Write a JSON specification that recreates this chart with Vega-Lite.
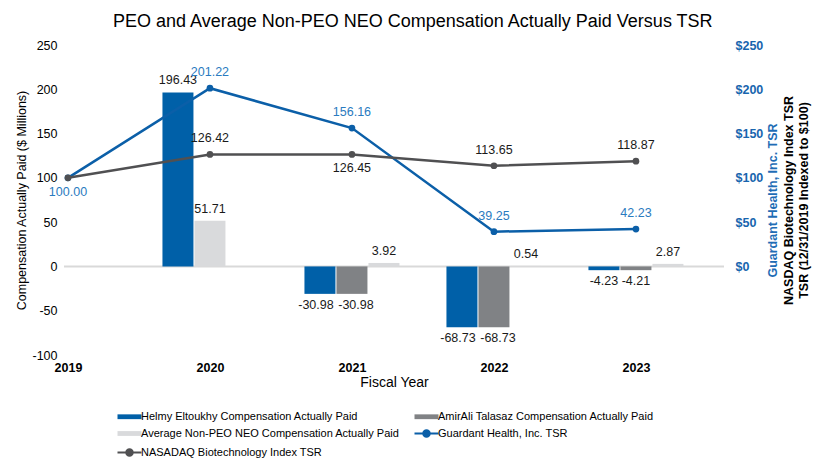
{
  "$schema": "https://vega.github.io/schema/vega-lite/v6.json",
  "width": 660,
  "height": 310,
  "autosize": {"type": "none"},
  "padding": {"left": 64, "top": 45, "right": 96, "bottom": 115},
  "background": "white",
  "title": {"text": "PEO and Average Non-PEO NEO Compensation Actually Paid Versus TSR", "fontSize": 18, "fontWeight": "normal", "font": "Liberation Sans", "color": "#000000", "anchor": "middle", "frame": "bounds", "offset": 8},
  "config": {"font": "Liberation Sans", "view": {"stroke": null}, "axis": {"grid": false, "domain": false, "ticks": false},
             "locale": {"number": {"decimal": ".", "thousands": ",", "grouping": [3], "currency": ["$", ""], "minus": "-"}}},
  "data": {"values": [
    {"year": "2020", "series": "Helmy Eltoukhy Compensation Actually Paid", "value": 196.43},
    {"year": "2020", "series": "Average Non-PEO NEO Compensation Actually Paid", "value": 51.71},
    {"year": "2021", "series": "Helmy Eltoukhy Compensation Actually Paid", "value": -30.98},
    {"year": "2021", "series": "AmirAli Talasaz Compensation Actually Paid", "value": -30.98},
    {"year": "2021", "series": "Average Non-PEO NEO Compensation Actually Paid", "value": 3.92},
    {"year": "2022", "series": "Helmy Eltoukhy Compensation Actually Paid", "value": -68.73},
    {"year": "2022", "series": "AmirAli Talasaz Compensation Actually Paid", "value": -68.73},
    {"year": "2022", "series": "Average Non-PEO NEO Compensation Actually Paid", "value": 0.54},
    {"year": "2023", "series": "Helmy Eltoukhy Compensation Actually Paid", "value": -4.23},
    {"year": "2023", "series": "AmirAli Talasaz Compensation Actually Paid", "value": -4.21},
    {"year": "2023", "series": "Average Non-PEO NEO Compensation Actually Paid", "value": 2.87},
    {"year": "2019", "series": "Guardant Health, Inc. TSR", "value": 100.00},
    {"year": "2020", "series": "Guardant Health, Inc. TSR", "value": 201.22},
    {"year": "2021", "series": "Guardant Health, Inc. TSR", "value": 156.16},
    {"year": "2022", "series": "Guardant Health, Inc. TSR", "value": 39.25},
    {"year": "2023", "series": "Guardant Health, Inc. TSR", "value": 42.23},
    {"year": "2019", "series": "NASADAQ Biotechnology Index TSR", "value": 100.00},
    {"year": "2020", "series": "NASADAQ Biotechnology Index TSR", "value": 126.42},
    {"year": "2021", "series": "NASADAQ Biotechnology Index TSR", "value": 126.45},
    {"year": "2022", "series": "NASADAQ Biotechnology Index TSR", "value": 113.65},
    {"year": "2023", "series": "NASADAQ Biotechnology Index TSR", "value": 118.87}
  ]},
  "layer": [
    {
      "data": {"values": [{}]},
      "mark": {"type": "rule", "color": "#D9D9D9", "strokeWidth": 2},
      "encoding": {"y": {"datum": 0, "type": "quantitative", "axis": null}}
    },
    {
      "transform": [
        {"filter": {"field": "series", "oneOf": ["Helmy Eltoukhy Compensation Actually Paid", "AmirAli Talasaz Compensation Actually Paid", "Average Non-PEO NEO Compensation Actually Paid"]}},
        {"calculate": "indexof(['Helmy Eltoukhy Compensation Actually Paid', 'AmirAli Talasaz Compensation Actually Paid', 'Average Non-PEO NEO Compensation Actually Paid'], datum.series)", "as": "ord"},
        {"window": [{"op": "row_number", "as": "slot"}], "groupby": ["year"], "sort": [{"field": "ord"}]}
      ],
      "mark": {"type": "bar", "width": 31, "xOffset": {"expr": "(datum.slot - 2) * 32"}},
      "encoding": {
        "x": {"field": "year", "type": "ordinal", "scale": {"type": "point", "domain": ["2019", "2020", "2021", "2022", "2023"], "padding": 0.324, "align": 0.043},
              "axis": {"labelAngle": 0, "labelFontWeight": "bold", "labelFontSize": 12.5, "labelColor": "#000000", "labelPadding": 6, "title": "Fiscal Year", "titleFontSize": 14, "titleFontWeight": "normal", "titleColor": "#000000", "titlePadding": 2}},
        "y": {"field": "value", "type": "quantitative", "stack": null, "scale": {"domain": [-100, 250], "nice": false, "zero": false},
              "axis": {"orient": "left", "values": [-100, -50, 0, 50, 100, 150, 200, 250], "labelFontSize": 12.5, "labelColor": "#000000", "labelPadding": 7, "title": "Compensation Actually Paid ($ Millions)", "titleFontSize": 12.5, "titleFontWeight": "normal", "titleColor": "#000000", "titlePadding": 3}},
        "color": {"field": "series", "type": "nominal",
                  "scale": {"domain": ["Helmy Eltoukhy Compensation Actually Paid", "AmirAli Talasaz Compensation Actually Paid", "Average Non-PEO NEO Compensation Actually Paid", "Guardant Health, Inc. TSR", "NASADAQ Biotechnology Index TSR"],
                            "range": ["#0060A8", "#808285", "#D9DADC", "#0B5FA8", "#505052"]},
                  "legend": {"orient": "none", "legendX": 60, "legendY": 366, "direction": "horizontal", "columns": 2, "columnPadding": 10, "rowPadding": 4, "padding": 0, "title": null, "labelFontSize": 11, "labelColor": "#000000", "labelLimit": 0, "symbolSize": 576, "labelOffset": 6,
                             "encode": {"symbols": {"update": {
                               "shape": {"signal": "indexof(['Guardant Health, Inc. TSR', 'NASADAQ Biotechnology Index TSR'], datum.value) >= 0 ? 'M-1,0H1M0.27,0A0.27,0.27,0,1,1,-0.27,0A0.27,0.27,0,1,1,0.27,0' : 'M-1,-0.2H1V0.2H-1Z'"},
                               "strokeWidth": {"signal": "indexof(['Guardant Health, Inc. TSR', 'NASADAQ Biotechnology Index TSR'], datum.value) >= 0 ? 2 : 0"},
                               "fill": {"scale": "color", "field": "value"},
                               "stroke": {"scale": "color", "field": "value"},
                               "size": {"value": 576},
                               "opacity": {"value": 1}
                             }}}}}
      }
    },
    {
      "transform": [
        {"filter": {"field": "series", "oneOf": ["Helmy Eltoukhy Compensation Actually Paid", "AmirAli Talasaz Compensation Actually Paid", "Average Non-PEO NEO Compensation Actually Paid"]}},
        {"calculate": "indexof(['Helmy Eltoukhy Compensation Actually Paid', 'AmirAli Talasaz Compensation Actually Paid', 'Average Non-PEO NEO Compensation Actually Paid'], datum.series)", "as": "ord"},
        {"window": [{"op": "row_number", "as": "slot"}], "groupby": ["year"], "sort": [{"field": "ord"}]}
      ],
      "mark": {"type": "text", "fontSize": 12.5, "color": "#1A1A1A", "xOffset": {"expr": "(datum.slot - 2) * 32"}, "baseline": {"expr": "datum.value < 0 ? 'top' : 'bottom'"}, "dy": {"expr": "datum.value < 0 ? 5 : -5"}, "dx": {"expr": "datum.value < -10 ? (datum.slot === 1 ? -4 : 4) : 0"}},
      "encoding": {
        "x": {"field": "year", "type": "ordinal", "scale": {"type": "point", "domain": ["2019", "2020", "2021", "2022", "2023"], "padding": 0.324, "align": 0.043}},
        "y": {"field": "value", "type": "quantitative", "stack": null, "axis": null},
        "text": {"field": "value", "type": "quantitative", "format": ".2f"}
      }
    },
    {
      "transform": [{"filter": {"field": "series", "equal": "Guardant Health, Inc. TSR"}}],
      "mark": {"type": "line", "strokeWidth": 2.5, "point": {"filled": true, "size": 45}},
      "encoding": {
        "x": {"field": "year", "type": "ordinal", "scale": {"type": "point", "domain": ["2019", "2020", "2021", "2022", "2023"], "padding": 0.324, "align": 0.043}},
        "y": {"field": "value", "type": "quantitative",
              "axis": {"orient": "right", "values": [0, 50, 100, 150, 200, 250], "format": "$d", "labelFontSize": 12.5, "labelFontWeight": "bold", "labelColor": "#1865AE", "labelPadding": 11, "title": "Guardant Health, Inc. TSR", "titleFontSize": 12.5, "titleFontWeight": "bold", "titleColor": "#1F6DB5", "titleAngle": 270, "titleBaseline": "top", "titlePadding": 4}},
        "color": {"field": "series", "type": "nominal"}
      }
    },
    {
      "transform": [{"filter": {"field": "series", "equal": "NASADAQ Biotechnology Index TSR"}}],
      "mark": {"type": "line", "strokeWidth": 2.5, "point": {"filled": true, "size": 45}},
      "encoding": {
        "x": {"field": "year", "type": "ordinal", "scale": {"type": "point", "domain": ["2019", "2020", "2021", "2022", "2023"], "padding": 0.324, "align": 0.043}},
        "y": {"field": "value", "type": "quantitative",
              "axis": {"orient": "right", "labels": false, "offset": 57, "title": ["NASDAQ Biotechnology Index TSR", "TSR (12/31/2019 Indexed to $100)"], "titleFontSize": 12.5, "titleFontWeight": "bold", "titleColor": "#000000", "titleAngle": 270, "titlePadding": 0}},
        "color": {"field": "series", "type": "nominal"}
      }
    },
    {
      "transform": [{"filter": "(datum.series === 'Guardant Health, Inc. TSR' || datum.series === 'NASADAQ Biotechnology Index TSR') && !(datum.series === 'NASADAQ Biotechnology Index TSR' && datum.year === '2019')"}],
      "mark": {"type": "text", "fontSize": 12.5, "baseline": "middle",
               "color": {"expr": "datum.series === 'Guardant Health, Inc. TSR' ? '#2A7BC0' : '#1A1A1A'"},
               "dy": {"expr": "(datum.year === '2019' || (datum.series === 'NASADAQ Biotechnology Index TSR' && datum.year === '2021')) ? 14 : -16"}},
      "encoding": {
        "x": {"field": "year", "type": "ordinal", "scale": {"type": "point", "domain": ["2019", "2020", "2021", "2022", "2023"], "padding": 0.324, "align": 0.043}},
        "y": {"field": "value", "type": "quantitative", "axis": null},
        "text": {"field": "value", "type": "quantitative", "format": ".2f"}
      }
    }
  ],
  "resolve": {"scale": {"y": "shared"}, "axis": {"y": "independent"}}
}
